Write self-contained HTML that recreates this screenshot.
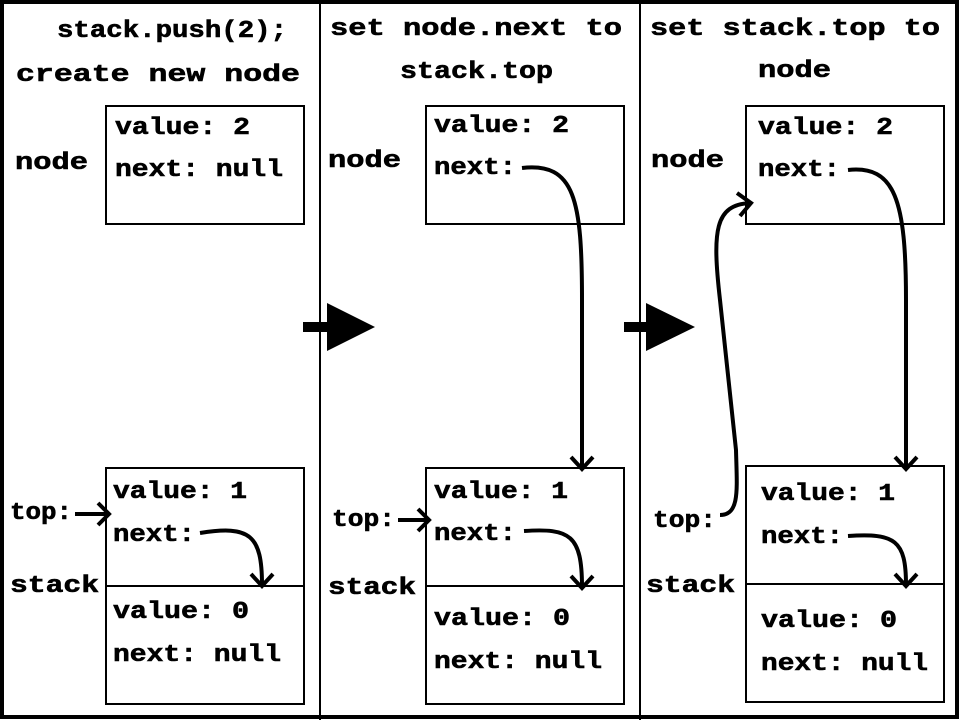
<!DOCTYPE html>
<html><head><meta charset="utf-8"><style>
html,body{margin:0;padding:0;background:#fff}
svg{display:block}
text{font-family:"Liberation Mono","DejaVu Sans Mono",monospace;font-weight:bold;font-size:24px;fill:#000;stroke:#000;stroke-width:0.6}
</style></head><body>
<svg width="960" height="720" viewBox="0 0 960 720" xmlns="http://www.w3.org/2000/svg">
<rect x="2" y="2" width="955" height="715" fill="#fff" stroke="#000" stroke-width="4"/>
<line x1="320" y1="0" x2="320" y2="720" stroke="#000" stroke-width="2"/>
<line x1="640" y1="0" x2="640" y2="720" stroke="#000" stroke-width="2"/>
<g fill="none" stroke="#000" stroke-width="2">
<rect x="106" y="106" width="198" height="118"/>
<rect x="106" y="468" width="198" height="236"/><line x1="106" y1="586" x2="304" y2="586"/>
<rect x="426" y="106" width="198" height="118"/>
<rect x="426" y="468" width="198" height="236"/><line x1="426" y1="586" x2="624" y2="586"/>
<rect x="746" y="106" width="198" height="118"/>
<rect x="746" y="466" width="198" height="236"/><line x1="746" y1="584" x2="944" y2="584"/>
</g>
<g fill="#000">
<rect x="303" y="322" width="26" height="10"/><polygon points="327,303 375,327 327,351"/>
<rect x="624" y="322" width="26" height="10"/><polygon points="646,303 695,327 646,351"/>
</g>
<g fill="none" stroke="#000" stroke-width="4" stroke-linecap="butt">
<path d="M75,514 L108,514"/><path d="M98,503 L109,514 L98,525"/>
<path d="M200,533 C250,525 262,535 262,585"/><path d="M251,574 L262,586 L273,574"/>
<path d="M398,520 L428,520"/><path d="M418,509 L429,520 L418,531"/>
<path d="M522,168 C575,162 582,200 582,300 L582,468"/><path d="M571,457 L582,469 L593,457"/>
<path d="M524,531 C570,528 582,535 582,587"/><path d="M571,576 L582,588 L593,576"/>
<path d="M720,515 C740,515 737,490 736,450 L720,300 C712,230 715,205 750,203"/><path d="M737,193 L751,203 L740,216"/>
<path d="M848,170 C895,165 906,200 906,300 L906,468"/><path d="M895,457 L906,469 L917,457"/>
<path d="M848,536 C895,533 906,540 906,585"/><path d="M895,574 L906,586 L917,574"/>
</g>
<text x="57" y="37" textLength="230" lengthAdjust="spacingAndGlyphs">stack.push(2);</text>
<text x="16" y="81" textLength="284" lengthAdjust="spacingAndGlyphs">create new node</text>
<text x="115" y="134" textLength="135" lengthAdjust="spacingAndGlyphs">value: 2</text>
<text x="115" y="176" textLength="168" lengthAdjust="spacingAndGlyphs">next: null</text>
<text x="15" y="169" textLength="73" lengthAdjust="spacingAndGlyphs">node</text>
<text x="113" y="498" textLength="134" lengthAdjust="spacingAndGlyphs">value: 1</text>
<text x="113" y="541" textLength="82" lengthAdjust="spacingAndGlyphs">next:</text>
<text x="113" y="618" textLength="136" lengthAdjust="spacingAndGlyphs">value: 0</text>
<text x="113" y="661" textLength="168" lengthAdjust="spacingAndGlyphs">next: null</text>
<text x="10" y="519" textLength="62" lengthAdjust="spacingAndGlyphs">top:</text>
<text x="10" y="592" textLength="89" lengthAdjust="spacingAndGlyphs">stack</text>

<text x="330" y="35" textLength="292" lengthAdjust="spacingAndGlyphs">set node.next to</text>
<text x="400" y="78" textLength="153" lengthAdjust="spacingAndGlyphs">stack.top</text>
<text x="434" y="132" textLength="135" lengthAdjust="spacingAndGlyphs">value: 2</text>
<text x="434" y="174" textLength="82" lengthAdjust="spacingAndGlyphs">next:</text>
<text x="328" y="167" textLength="73" lengthAdjust="spacingAndGlyphs">node</text>
<text x="434" y="498" textLength="134" lengthAdjust="spacingAndGlyphs">value: 1</text>
<text x="434" y="540" textLength="82" lengthAdjust="spacingAndGlyphs">next:</text>
<text x="434" y="625" textLength="136" lengthAdjust="spacingAndGlyphs">value: 0</text>
<text x="434" y="668" textLength="168" lengthAdjust="spacingAndGlyphs">next: null</text>
<text x="332" y="526" textLength="63" lengthAdjust="spacingAndGlyphs">top:</text>
<text x="328" y="594" textLength="88" lengthAdjust="spacingAndGlyphs">stack</text>

<text x="650" y="35" textLength="290" lengthAdjust="spacingAndGlyphs">set stack.top to</text>
<text x="758" y="77" textLength="73" lengthAdjust="spacingAndGlyphs">node</text>
<text x="758" y="134" textLength="135" lengthAdjust="spacingAndGlyphs">value: 2</text>
<text x="758" y="176" textLength="82" lengthAdjust="spacingAndGlyphs">next:</text>
<text x="651" y="167" textLength="73" lengthAdjust="spacingAndGlyphs">node</text>
<text x="761" y="500" textLength="134" lengthAdjust="spacingAndGlyphs">value: 1</text>
<text x="761" y="543" textLength="82" lengthAdjust="spacingAndGlyphs">next:</text>
<text x="761" y="627" textLength="136" lengthAdjust="spacingAndGlyphs">value: 0</text>
<text x="761" y="670" textLength="167" lengthAdjust="spacingAndGlyphs">next: null</text>
<text x="653" y="527" textLength="63" lengthAdjust="spacingAndGlyphs">top:</text>
<text x="646" y="592" textLength="89" lengthAdjust="spacingAndGlyphs">stack</text>
</svg>
</body></html>
